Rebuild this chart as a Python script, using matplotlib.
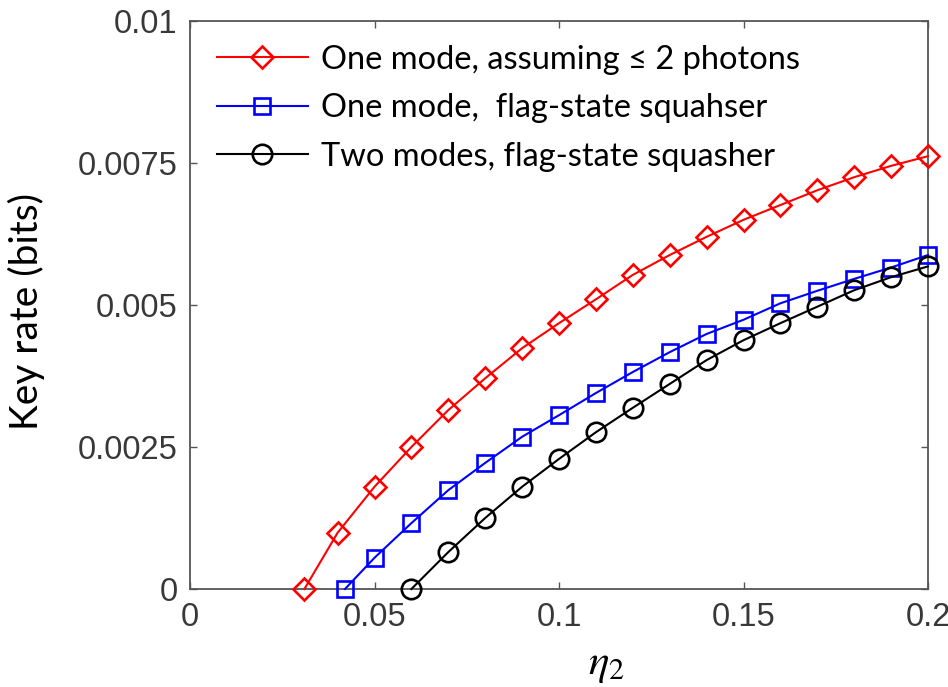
import matplotlib
matplotlib.use("Agg")
import matplotlib.pyplot as plt
from matplotlib.ticker import FixedLocator, FixedFormatter

# ---- data ----
x_red = [0.031, 0.04, 0.05, 0.06, 0.07, 0.08, 0.09, 0.10, 0.11, 0.12, 0.13, 0.14,
         0.15, 0.16, 0.17, 0.18, 0.19, 0.20]
y_red = [0.0, 0.00099, 0.0018, 0.0025, 0.00315, 0.00371, 0.00424, 0.00468, 0.00510,
         0.00553, 0.00588, 0.00620, 0.00650, 0.00676, 0.00702, 0.00725, 0.00745, 0.00762]

x_blue = [0.042, 0.05, 0.06, 0.07, 0.08, 0.09, 0.10, 0.11, 0.12, 0.13, 0.14, 0.15,
          0.16, 0.17, 0.18, 0.19, 0.20]
y_blue = [0.0, 0.00055, 0.00116, 0.00174, 0.00222, 0.00268, 0.00306, 0.00345, 0.00382,
          0.00417, 0.00449, 0.00474, 0.00503, 0.00525, 0.00546, 0.00566, 0.00588]

x_black = [0.06, 0.07, 0.08, 0.09, 0.10, 0.11, 0.12, 0.13, 0.14, 0.15, 0.16, 0.17,
           0.18, 0.19, 0.20]
y_black = [0.0, 0.00065, 0.00125, 0.0018, 0.00229, 0.00276, 0.00319, 0.00361, 0.00403,
           0.00438, 0.00468, 0.00497, 0.00526, 0.00549, 0.00568]

labels = ["One mode, assuming ≤ 2 photons",
          "One mode,  flag-state squahser",
          "Two modes, flag-state squasher"]

xticks = [0, 0.05, 0.1, 0.15, 0.2]
xtick_labels = ["0", "0.05", "0.1", "0.15", "0.2"]
yticks = [0, 0.0025, 0.005, 0.0075, 0.01]
ytick_labels = ["0", "0.0025", "0.005", "0.0075", "0.01"]

# ---- figure ----
plt.rcParams['mathtext.fontset'] = 'stix'
fig = plt.figure(figsize=(9.48, 6.87), dpi=100)
ax = fig.add_axes([190/948, 1-589/687, (928-190)/948, (589-21)/687])

lw = 1.5
mew = 1.9
ax.plot(x_red, y_red, color='#ff0000', lw=lw, marker='D', ms=11.5, mfc='none',
        mew=mew, label=labels[0], clip_on=False, zorder=3)
ax.plot(x_blue, y_blue, color='#0000ff', lw=lw, marker='s', ms=11.5, mfc='none',
        mew=mew, label=labels[1], clip_on=False, zorder=3)
ax.plot(x_black, y_black, color='#000000', lw=lw, marker='o', ms=14, mfc='none',
        mew=mew, label=labels[2], clip_on=False, zorder=3)

ax.set_xlim(0, 0.2)
ax.set_ylim(0, 0.01)
ax.xaxis.set_major_locator(FixedLocator(xticks))
ax.xaxis.set_major_formatter(FixedFormatter(xtick_labels))
ax.yaxis.set_major_locator(FixedLocator(yticks))
ax.yaxis.set_major_formatter(FixedFormatter(ytick_labels))

axcol = '#555555'
for s in ax.spines.values():
    s.set_color(axcol)
    s.set_linewidth(1.3)
ax.tick_params(direction='in', length=5, width=1.0, color=axcol, top=True, right=True,
               labelsize=23.5, labelcolor='#383838', pad=9)
for t in ax.get_xticklabels() + ax.get_yticklabels():
    t.set_family('Liberation Sans')

ax.set_ylabel("Key rate (bits)", fontsize=28, family=['Lato', 'DejaVu Sans'],
              color='black')
ax.yaxis.set_label_coords(-0.196, 0.488)
ax.set_xlabel("$\\eta_2$", fontsize=31, color='black')
ax.xaxis.set_label_coords(0.564, -0.095)

leg = ax.legend(loc='upper left', bbox_to_anchor=(0.036, 0.9585), frameon=False,
                borderpad=0, borderaxespad=0, handlelength=2.8, handletextpad=0.4,
                labelspacing=0.57, prop={'family': ['Lato', 'DejaVu Sans'], 'size': 23.5})

fig.savefig("out.png", dpi=100, facecolor='white')
